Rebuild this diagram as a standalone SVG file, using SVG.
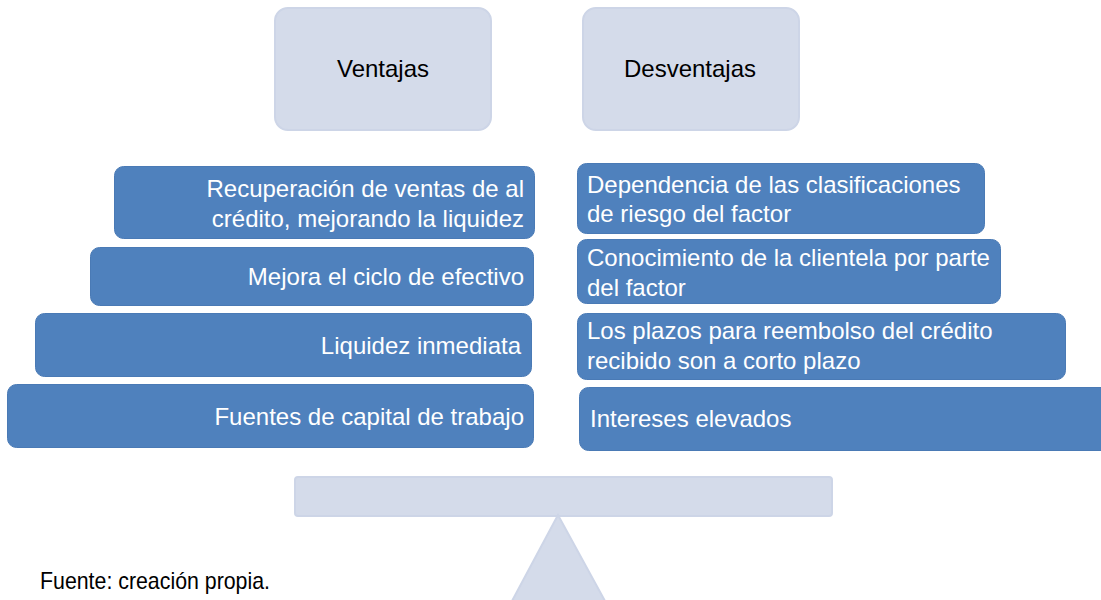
<svg xmlns="http://www.w3.org/2000/svg" width="1101" height="600" viewBox="0 0 1101 600">
<style>
.hdr{fill:#D4DBEA;stroke:#CDD5E7;stroke-width:2}
.blue{fill:#4F81BD;stroke:#4A7AB5;stroke-width:1}
.t{font-family:"Liberation Sans",Arial,sans-serif;font-size:24px}
.w{fill:#FFFFFF}
.k{fill:#000000}
.r{text-anchor:end}
.m{text-anchor:middle}
</style>
<rect width="1101" height="600" fill="#FFFFFF"/>
<g id="ventajas">
<rect class="hdr" x="275" y="8" width="216" height="122" rx="13"/>
<text class="t k m" x="383" y="77">Ventajas</text>
</g>
<g id="desventajas">
<rect class="hdr" x="583" y="8" width="216" height="122" rx="13"/>
<text class="t k m" x="690" y="77">Desventajas</text>
</g>
<g id="v1">
<rect class="blue" x="114.5" y="166.5" width="420" height="72" rx="9"/>
<text class="t w r" x="524" y="197">Recuperación de ventas de al</text>
<text class="t w r" x="524" y="227">crédito, mejorando la liquidez</text>
</g>
<g id="v2">
<rect class="blue" x="90.5" y="247.5" width="443" height="58" rx="9"/>
<text class="t w r" x="524" y="285">Mejora el ciclo de efectivo</text>
</g>
<g id="v3">
<rect class="blue" x="35.5" y="313.5" width="496" height="63" rx="9"/>
<text class="t w r" x="521" y="354">Liquidez inmediata</text>
</g>
<g id="v4">
<rect class="blue" x="7.5" y="384.5" width="526" height="63" rx="9"/>
<text class="t w r" x="524" y="425">Fuentes de capital de trabajo</text>
</g>
<g id="d1">
<rect class="blue" x="577.5" y="163.5" width="407" height="70" rx="9"/>
<text class="t w" x="587" y="193">Dependencia de las clasificaciones</text>
<text class="t w" x="587" y="222">de riesgo del factor</text>
</g>
<g id="d2">
<rect class="blue" x="577.5" y="239.5" width="423" height="64" rx="9"/>
<text class="t w" x="587" y="266">Conocimiento de la clientela por parte</text>
<text class="t w" x="587" y="296">del factor</text>
</g>
<g id="d3">
<rect class="blue" x="577.5" y="313.5" width="488" height="66" rx="9"/>
<text class="t w" x="587" y="339">Los plazos para reembolso del crédito</text>
<text class="t w" x="587" y="369">recibido son a corto plazo</text>
</g>
<g id="d4">
<rect class="blue" x="579.5" y="387.5" width="540" height="63" rx="9"/>
<text class="t w" x="590" y="427">Intereses elevados</text>
</g>
<g id="balanza">
<rect class="hdr" x="295" y="477" width="537" height="39" rx="3"/>
<polygon class="hdr" points="558,515 512,601 605,601"/>
</g>
<g id="connectors"></g>
<text class="t k" x="40" y="589" textLength="230" lengthAdjust="spacingAndGlyphs">Fuente: creación propia.</text>
</svg>
